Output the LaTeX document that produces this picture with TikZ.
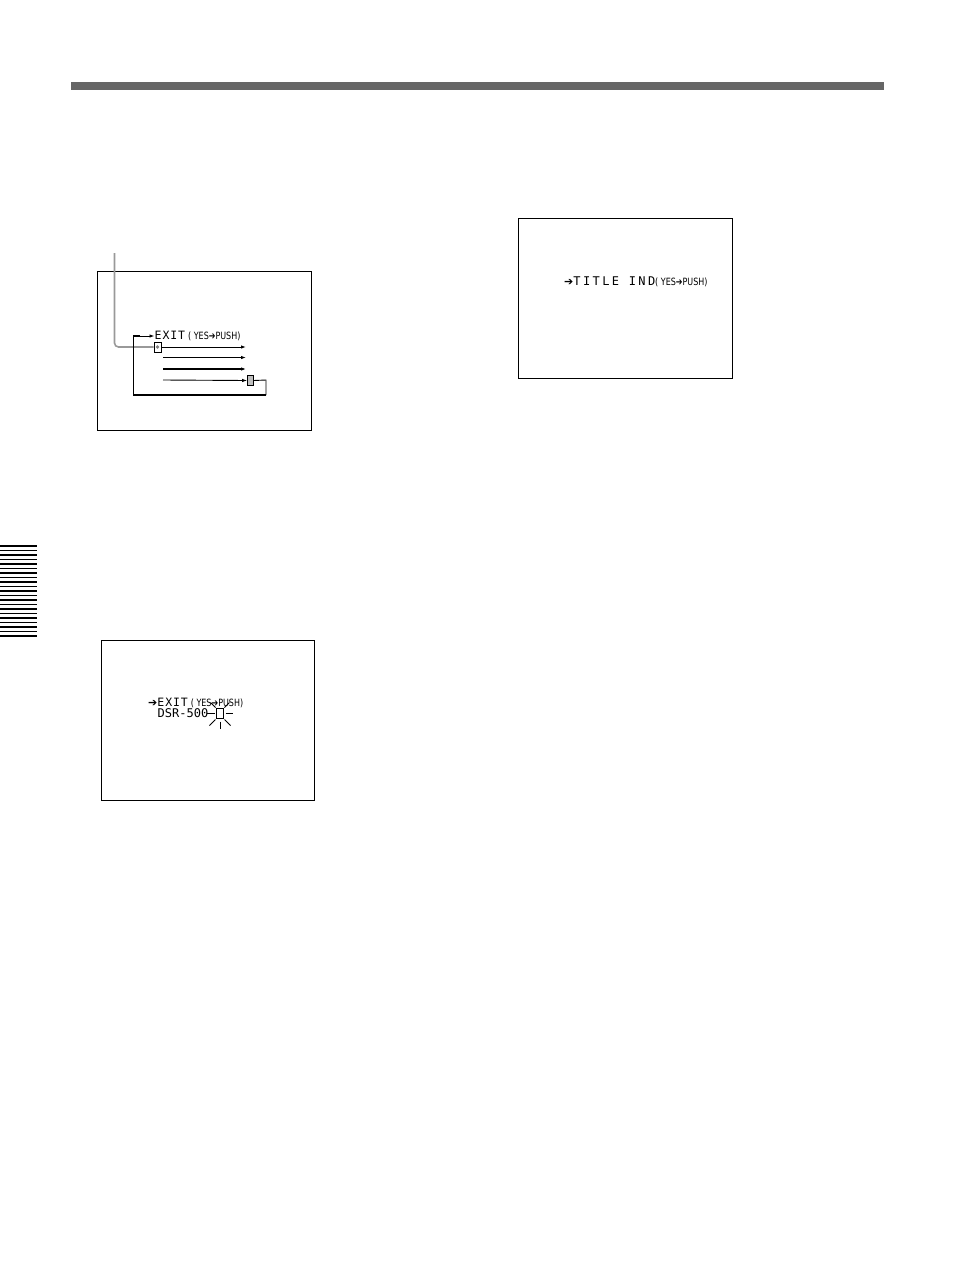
\documentclass[tikz,border=0pt]{standalone}
\usepackage{fontspec}
\usepackage{graphicx}
\usetikzlibrary{arrows.meta}
\newfontfamily\osd{DejaVu Sans Mono}[LetterSpace=8]
\newfontfamily\osdsm{DejaVu Sans}
\newcommand{\yp}{\scalebox{.8}[1]{\osdsm\fontsize{10}{10}\selectfont( YES➔PUSH)}}
\newcommand{\bigarr}{{\osdsm\fontsize{11}{11}\selectfont ➔}}
\tikzset{
  screen/.style={draw=black, line width=1pt},
  osdtext/.style={anchor=base west, inner sep=0pt, font=\osd\fontsize{11.5}{11.5}\selectfont},
  flow/.style={line width=0.9pt, -{Latex[length=5pt,width=3.5pt]}},
  thickflow/.style={line width=1.8pt, -{Latex[length=5pt,width=3.5pt]}},
  ret/.style={line width=1.8pt},
  cursor/.style={draw=black, line width=0.8pt, minimum width=7pt, minimum height=10pt, inner sep=0pt},
  leader/.style={draw=gray!80, line width=1.6pt, rounded corners=4pt},
  ray/.style={line width=0.8pt},
  stripe/.style={line width=1.7pt}
}
\begin{document}
\begin{tikzpicture}[x=1pt,y=-1pt]
\useasboundingbox (0,0) rectangle (954,1274);
% header bar
\fill[black!60] (71,82) rectangle (884,90);
% side stripes
\foreach \k in {0,...,20} {
  \draw[stripe] (0,{546+4.5*\k}) -- (37,{546+4.5*\k});
}
% ---------- screen 1 ----------
\node[screen, minimum width=214pt, minimum height=159pt, anchor=north west, inner sep=0pt] (s1) at (97,271) {};
\node[osdtext] (exit1) at (154.5,339) {EXIT\hspace{3pt}\yp};
\node[cursor] (cur1) at (157.5,347) {};
\fill[gray] (cur1.center) circle (1.8pt);
\coordinate (ltop) at (114.5,253);
\draw[leader] (ltop) |- (cur1.west);
\coordinate (a1) at (246,347);
\coordinate (b2) at (163,357.5);
\coordinate (a2) at (246,357.5);
\coordinate (b3) at (163,369);
\coordinate (a3) at (246,369);
\coordinate (b4) at (163,380);
\node[draw=black, fill=black!25, line width=0.8pt, minimum width=6pt, minimum height=10.5pt, inner sep=0pt] (gbox) at (250.5,380.5) {};
\draw[flow] (cur1.east) -- (a1);
\draw[flow] (b2) -- (a2);
\draw[thickflow] (b3) -- (a3);
\draw[flow] (b4) -- (gbox.west);
\coordinate (r1) at (266,380);
\coordinate (r2) at (266,395);
\coordinate (r3) at (133.5,395);
\coordinate (r4) at (133.5,336);
\draw[line width=0.9pt] (gbox.east) -- (r1) -- (r2);
\draw[ret] (r2) -- (r3) -- (r4) -- (140,336);
\draw[flow] (139,336) -- (exit1.west |- 0,336);
% ---------- screen 2 ----------
\node[screen, minimum width=213pt, minimum height=160pt, anchor=north west, inner sep=0pt] (s2) at (100.5,639.5) {};
\node[osdtext] (exit2) at (148,706) {\bigarr EXIT\hspace{3pt}\yp};
\node[osdtext, font=\osd\fontsize{12}{12}\selectfont\addfontfeature{LetterSpace=0}] (dsr) at (157.5,717.5) {DSR-500};
\node[cursor, minimum height=9.5pt] (cur2) at (220,713.5) {};
\draw[ray] (207,713.5) -- (215,713.5);
\draw[ray] (225.5,713.5) -- (233,713.5);
\draw[ray] (220,721.5) -- (220,728.5);
\draw[ray] (215.5,719.5) -- (209.5,725.5);
\draw[ray] (224.5,719.5) -- (230.5,725.5);
\draw[ray] (215.5,707.5) -- (210.5,702.5);
\draw[ray] (224.5,707.5) -- (229.5,702.5);
% ---------- screen 3 ----------
\node[screen, minimum width=214pt, minimum height=160pt, anchor=north west, inner sep=0pt] (s3) at (517.5,217.5) {};
\node[osdtext, font=\osd\fontsize{12}{12}\selectfont] (title) at (564,285.5) {\bigarr{\addfontfeature{LetterSpace=20}TITLE IND}\yp};
\end{tikzpicture}
\end{document}
